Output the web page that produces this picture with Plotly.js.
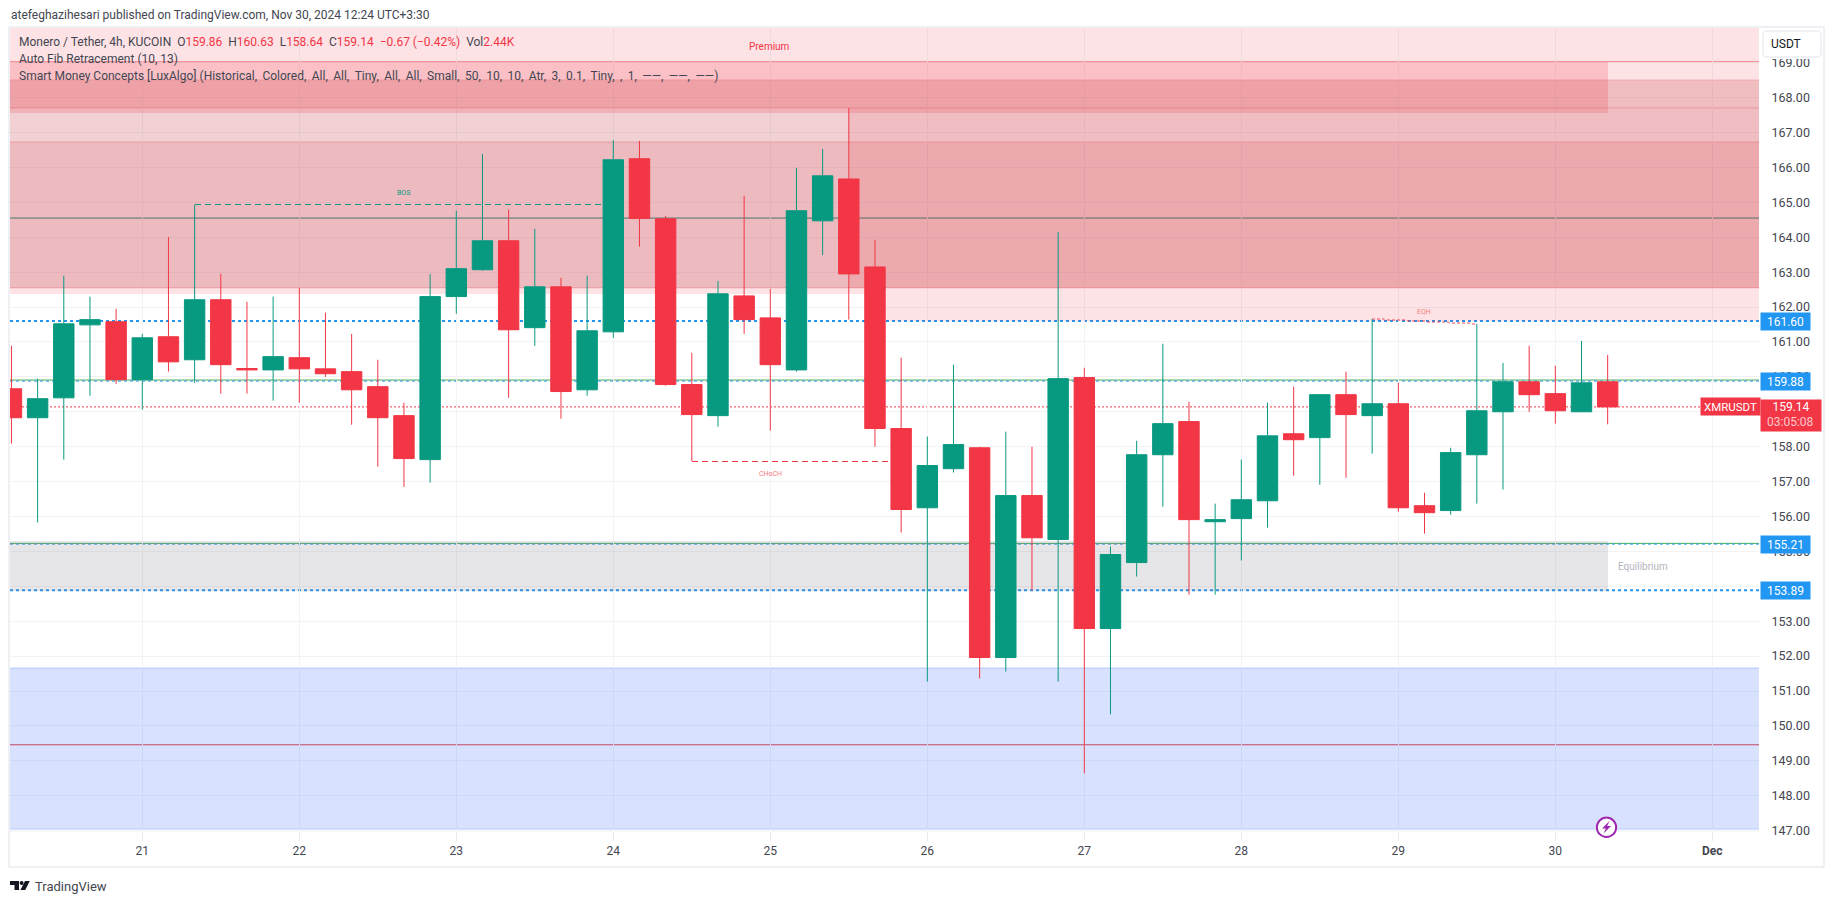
<!DOCTYPE html>
<html><head><meta charset="utf-8">
<script src="https://cdn.plot.ly/plotly-3.0.1.min.js"></script>
<style>html,body{margin:0;padding:0;background:#fff;overflow:hidden}#c{width:1835px;height:903px}
.cartesianlayer .shapelayer path{shape-rendering:crispEdges !important}</style>
</head><body><div id="c"></div>
<script>
const times=['2024-11-20 04:00','2024-11-20 08:00','2024-11-20 12:00','2024-11-20 16:00','2024-11-20 20:00',
'2024-11-21 00:00','2024-11-21 04:00','2024-11-21 08:00','2024-11-21 12:00','2024-11-21 16:00','2024-11-21 20:00',
'2024-11-22 00:00','2024-11-22 04:00','2024-11-22 08:00','2024-11-22 12:00','2024-11-22 16:00','2024-11-22 20:00',
'2024-11-23 00:00','2024-11-23 04:00','2024-11-23 08:00','2024-11-23 12:00','2024-11-23 16:00','2024-11-23 20:00',
'2024-11-24 00:00','2024-11-24 04:00','2024-11-24 08:00','2024-11-24 12:00','2024-11-24 16:00','2024-11-24 20:00',
'2024-11-25 00:00','2024-11-25 04:00','2024-11-25 08:00','2024-11-25 12:00','2024-11-25 16:00','2024-11-25 20:00',
'2024-11-26 00:00','2024-11-26 04:00','2024-11-26 08:00','2024-11-26 12:00','2024-11-26 16:00','2024-11-26 20:00',
'2024-11-27 00:00','2024-11-27 04:00','2024-11-27 08:00','2024-11-27 12:00','2024-11-27 16:00','2024-11-27 20:00',
'2024-11-28 00:00','2024-11-28 04:00','2024-11-28 08:00','2024-11-28 12:00','2024-11-28 16:00','2024-11-28 20:00',
'2024-11-29 00:00','2024-11-29 04:00','2024-11-29 08:00','2024-11-29 12:00','2024-11-29 16:00','2024-11-29 20:00',
'2024-11-30 00:00','2024-11-30 04:00','2024-11-30 08:00'];
const opens=[159.66,158.83,159.40,161.49,161.58,159.92,161.15,160.49,162.21,160.24,160.20,160.55,160.23,160.15,159.72,158.89,157.63,162.30,163.07,163.90,161.41,162.58,159.63,161.29,166.25,164.53,159.78,158.89,162.32,161.69,160.20,164.47,165.67,163.15,158.52,156.25,157.37,157.97,151.96,156.60,155.34,159.98,152.79,154.68,157.77,158.72,155.85,155.94,156.45,158.37,158.26,159.49,158.89,159.23,156.31,156.17,157.77,159.00,159.86,159.52,159.00,159.86];
const highs=[160.89,159.95,162.90,162.30,161.95,161.23,164.01,164.93,162.95,162.15,162.30,162.55,161.84,161.23,160.49,159.26,162.95,164.76,166.39,164.79,164.24,162.84,162.90,166.79,166.76,164.61,160.69,162.75,165.19,162.52,165.99,166.53,167.70,163.93,160.55,158.29,160.35,158.00,158.43,158.00,164.15,160.26,155.14,158.17,160.95,159.29,156.37,157.63,159.26,159.72,159.49,160.15,161.66,159.83,156.68,157.97,161.52,160.40,160.89,160.32,161.03,160.63];
const lows=[158.09,155.83,157.63,159.46,159.80,159.06,160.15,159.83,159.52,159.52,159.32,159.26,160.00,158.63,157.43,156.85,156.97,161.81,163.04,159.40,160.89,158.80,159.46,161.12,163.73,159.75,157.59,158.57,161.23,158.46,160.15,163.49,161.64,158.00,155.54,151.27,157.26,151.36,151.56,153.88,151.27,148.64,150.33,154.28,156.28,153.76,153.76,154.74,155.68,157.17,156.91,157.11,157.80,156.14,155.51,156.05,156.37,156.77,159.00,158.66,159.00,158.64];
const closes=[158.83,159.375,161.52,161.64,159.92,161.12,160.43,162.21,160.35,160.20,160.58,160.23,160.09,159.63,158.83,157.66,162.30,163.10,163.90,161.35,162.58,159.58,161.32,166.22,164.54,159.78,158.92,162.38,161.64,160.35,164.76,165.76,162.95,158.52,156.20,157.46,158.06,151.96,156.60,155.39,159.95,152.79,154.91,157.77,158.66,155.91,155.91,156.48,158.31,158.20,159.49,158.92,159.23,156.25,156.11,157.83,159.03,159.86,159.49,159.03,159.83,159.14];

const dayTicks=['2024-11-21','2024-11-22','2024-11-23','2024-11-24','2024-11-25','2024-11-26','2024-11-27','2024-11-28','2024-11-29','2024-11-30','2024-12-01'];
const dayLabels=['21','22','23','24','25','26','27','28','29','30','<b>Dec</b>'];
const priceTicks=[147,148,149,150,151,152,153,154,155,156,157,158,159,160,161,162,163,164,165,166,167,168,169];
const priceFmt=priceTicks.map(p=>p.toFixed(2));

const xRange=['2024-11-20 03:46:40','2024-12-01 07:08:00'];
const yRange=[146.99,169.995];
const L=10,R=1759,T=28,B=831;
const W=R-L,H=B-T;
const px=x=>(x-L)/W, py=y=>(B-y)/H;

const UP='#089981',DOWN='#f23645',BLUE='#2196f3';
const zoneEnd='2024-11-30 08:00',obStart='2024-11-25 12:00',premStart='2024-11-25 16:00';

const zoneStarts=[xRange[0],premStart,xRange[0],xRange[0],xRange[0],obStart,xRange[0],xRange[0],xRange[0]];
const zoneEnds=[xRange[1],xRange[1],zoneEnd,xRange[1],xRange[1],xRange[1],xRange[1],zoneEnd,xRange[1]];
const zoneLows=[162.38,161.60,167.56,166.73,167.705,162.55,162.55,153.88,147.04];
const zoneHighs=[169.995,162.38,169.02,168.51,168.51,167.705,166.73,155.30,151.66];
const zoneFills=['rgba(242,54,69,0.14)','rgba(242,54,69,0.14)','rgba(242,54,69,0.20)','rgba(134,60,70,0.10)','rgba(242,54,69,0.13)','rgba(242,54,69,0.12)','rgba(178,40,51,0.21)','rgba(120,123,134,0.19)','rgba(41,98,255,0.185)'];

const levelPrices=[169.02,168.51,167.705,166.73,162.55,164.55,159.91,155.23,161.60,159.88,155.21,153.89,159.14,149.46,151.66,147.04];
const levelColors=[DOWN,'rgba(242,54,69,0.22)','rgba(242,54,69,0.28)','rgba(242,54,69,0.28)','rgba(242,54,69,0.28)',UP,'#4caf50','#4caf50',BLUE,BLUE,BLUE,BLUE,DOWN,'#e5403f','rgba(41,98,255,0.25)','rgba(41,98,255,0.25)'];
const levelWidths=[1,1,1,1,1,1,1,1,2,1,1,2,1,1,1,1];
const levelDashes=['solid','solid','solid','solid','solid','solid','solid','solid','3px,3px','3px,3px','3px,3px','3px,3px','2px,2px','solid','solid','solid'];

const structStart=['2024-11-21 08:00','2024-11-24 12:00','2024-11-28 20:00'];
const structEnd=['2024-11-24 00:00','2024-11-25 20:00','2024-11-29 12:00'];
const structP0=[164.93,157.59,161.66];
const structP1=[164.93,157.59,161.52];
const structColors=[UP,DOWN,'rgba(242,54,69,0.45)'];
const structWidths=[1,1,2];
const structDashes=['6px,4px','6px,4px','3px,2px'];

const shapes=[];
zoneLows.forEach((_,i)=>shapes.push({type:'rect',layer:'between',xref:'x',yref:'y',x0:zoneStarts[i],x1:zoneEnds[i],y0:zoneLows[i],y1:zoneHighs[i],fillcolor:zoneFills[i],line:{width:0}}));
levelPrices.forEach((p,i)=>shapes.push({type:'line',layer:'between',xref:'paper',yref:'y',x0:0,x1:1,y0:p,y1:p,line:{color:levelColors[i],width:levelWidths[i],dash:levelDashes[i]}}));
structP0.forEach((_,i)=>shapes.push({type:'line',layer:'between',xref:'x',yref:'y',x0:structStart[i],x1:structEnd[i],y0:structP0[i],y1:structP1[i],line:{color:structColors[i],width:structWidths[i],dash:structDashes[i]}}));
/* frame */
shapes.push({type:'rect',layer:'above',xref:'paper',yref:'paper',x0:px(9),x1:px(1824),y0:py(27),y1:py(867),line:{color:'#e9ebf1',width:1.5}});
shapes.push({type:'line',layer:'above',xref:'paper',yref:'paper',x0:px(9),x1:px(1759),y0:py(831),y1:py(831),line:{color:'#f0f2f6',width:1}});
/* USDT button */
shapes.push({type:'rect',layer:'above',xref:'paper',yref:'paper',x0:px(1760),x1:px(1823),y0:py(28),y1:py(59),fillcolor:'#fff',line:{width:0}});
const rr=(a,b,c,d,r)=>`M ${px(a+r)} ${py(b)} L ${px(c-r)} ${py(b)} Q ${px(c)} ${py(b)} ${px(c)} ${py(b+r)} L ${px(c)} ${py(d-r)} Q ${px(c)} ${py(d)} ${px(c-r)} ${py(d)} L ${px(a+r)} ${py(d)} Q ${px(a)} ${py(d)} ${px(a)} ${py(d-r)} L ${px(a)} ${py(b+r)} Q ${px(a)} ${py(b)} ${px(a+r)} ${py(b)} Z`;
shapes.push({type:'path',layer:'above',xref:'paper',yref:'paper',path:rr(1763,31,1821,57,4),fillcolor:'#fff',line:{color:'#eceef3',width:1.5}});
/* lightning badge */
shapes.push({type:'circle',layer:'above',xref:'paper',yref:'paper',x0:px(1595.5),x1:px(1617.5),y0:py(816.5),y1:py(838.5),fillcolor:'#fff',line:{width:0}});
shapes.push({type:'circle',layer:'above',xref:'paper',yref:'paper',x0:px(1596.8),x1:px(1616.2),y0:py(817.6),y1:py(837),fillcolor:'#fff',line:{color:'#9c27b0',width:2}});
const poly=(pts)=>'M '+pts.map(p=>px(p[0])+' '+py(p[1])).join(' L ')+' Z';
shapes.push({type:'path',layer:'above',xref:'paper',yref:'paper',path:poly([[1609.5,821],[1602,828.5],[1605.8,828.5],[1603.5,833.5],[1611,826],[1607.2,826]]),fillcolor:'#9c27b0',line:{width:0}});
/* TradingView mark */
shapes.push({type:'path',layer:'above',xref:'paper',yref:'paper',path:poly([[10,881],[19,881],[19,890],[14.5,890],[14.5,885],[10,885]]),fillcolor:'#131722',line:{width:0}});
shapes.push({type:'circle',layer:'above',xref:'paper',yref:'paper',x0:px(19.6),x1:px(23.6),y0:py(881),y1:py(885),fillcolor:'#131722',line:{width:0}});
shapes.push({type:'path',layer:'above',xref:'paper',yref:'paper',path:poly([[25,881],[29.8,881],[25.2,890],[20.4,890]]),fillcolor:'#131722',line:{width:0}});

const FONT='Roboto, sans-serif';
const r=s=>`<span style="color:${DOWN}">${s}</span>`;
const sp='\u00a0\u00a0';
const legend1=`Monero / Tether, 4h, KUCOIN${sp}O${r('159.86')}${sp}H${r('160.63')}${sp}L${r('158.64')}${sp}C${r('159.14')}${sp}${r('−0.67 (−0.42%)')}${sp}Vol${r('2.44K')}`;
const smcParams='Historical, Colored, All, All, Tiny, All, All, Small, 50, 10, 10, Atr, 3, 0.1, Tiny, , 1, ——, ——, ——'.split(', ').join(',\u2009\u00a0');
const txt=(text,x,y,size,color,anchor='left')=>({xref:'paper',yref:'paper',x:px(x),y:py(y),text,showarrow:false,xanchor:anchor,yanchor:'middle',font:{family:FONT,size,color},borderpad:0});
const badge=(text,price,color)=>({xref:'paper',yref:'y',x:px(1760),y:price,text,showarrow:false,xanchor:'left',yanchor:'middle',width:49,height:17,align:'center',valign:'middle',bgcolor:color,borderpad:0,font:{family:FONT,size:12,color:'#fff'}});
const annotations=[
 txt('atefeghazihesari published on TradingView.com, Nov 30, 2024 12:24 UTC+3:30',10,15,12,'#434651'),
 txt(legend1,18,42,12,'#434651'),
 txt('Auto Fib Retracement (10, 13)',18,59,12,'#434651'),
 txt('Smart Money Concepts [LuxAlgo] ('+smcParams+')',18,76,12,'#434651'),
 txt('TradingView',34,886,13,'#434651'),
 txt('USDT',1786,44.5,12,'#131722','center'),
 txt('Premium',769,47,10,DOWN,'center'),
 txt('Equilibrium',1643,566.7,10,'#b2b5be','center'),
 {xref:'x',yref:'y',x:'2024-11-22 16:00',y:165.27,text:'BOS',showarrow:false,font:{family:FONT,size:7,color:UP}},
 {xref:'x',yref:'y',x:'2024-11-25 00:00',y:157.23,text:'CHoCH',showarrow:false,font:{family:FONT,size:7,color:'#f77c80'}},
 {xref:'x',yref:'y',x:'2024-11-29 04:00',y:161.85,text:'EQH',showarrow:false,font:{family:FONT,size:7,color:'#f77c80'}},
 badge('161.60',161.60,BLUE),badge('159.88',159.88,BLUE),badge('155.21',155.21,BLUE),badge('153.89',153.89,BLUE),
 {xref:'paper',yref:'y',x:px(1700),y:159.14,text:'XMRUSDT',showarrow:false,xanchor:'left',yanchor:'middle',width:59,height:17,bgcolor:DOWN,borderpad:0,font:{family:FONT,size:11.5,color:'#fff'}},
 {xref:'paper',yref:'paper',x:px(1760),y:py(399),text:'159.14',showarrow:false,xanchor:'left',yanchor:'top',width:60,height:31,align:'center',valign:'top',bgcolor:DOWN,borderpad:0,font:{family:FONT,size:12,color:'#fff'}},
 txt('03:05:08',1790,422,12,'#fcc8cc','center')
];

const data=[{type:'candlestick',x:times,open:opens,high:highs,low:lows,close:closes,whiskerwidth:0,
 increasing:{line:{color:UP,width:1},fillcolor:UP},decreasing:{line:{color:DOWN,width:1},fillcolor:DOWN},hoverinfo:'skip'}];

const layout={width:1835,height:903,autosize:false,paper_bgcolor:'#fff',plot_bgcolor:'#fff',showlegend:false,boxgap:0.22,boxgroupgap:0,
 margin:{l:L,r:1835-R,t:T,b:903-B,pad:0},
 font:{family:FONT,size:12,color:'#131722'},
 xaxis:{type:'date',range:xRange,rangeslider:{visible:false},tickmode:'array',tickvals:dayTicks,ticktext:dayLabels,
  showgrid:true,gridcolor:'#f2f3f5',gridwidth:1,zeroline:false,showline:false,ticks:'outside',ticklen:9,tickcolor:'#e9ebf0',tickwidth:1,
  tickfont:{family:FONT,size:12,color:'#434651'}},
 yaxis:{side:'right',range:yRange,tickmode:'array',tickvals:priceTicks,ticktext:priceFmt,
  showgrid:true,gridcolor:'#f2f3f5',gridwidth:1,zeroline:false,showline:false,ticks:'outside',ticklen:9,tickcolor:'rgba(0,0,0,0)',
  tickfont:{family:FONT,size:12.5,color:'#434651'}},
 shapes,annotations};
Plotly.newPlot('c',data,layout,{displayModeBar:false,staticPlot:true});
</script></body></html>
